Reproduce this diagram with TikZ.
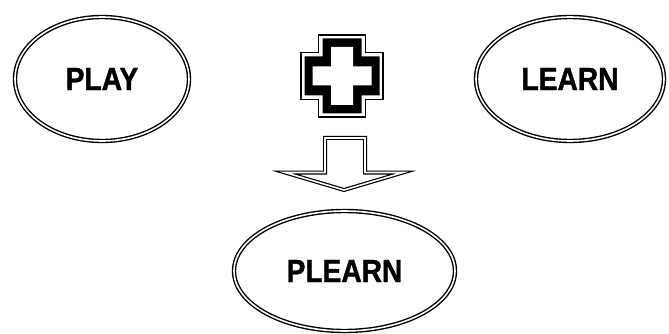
\documentclass[tikz,border=0pt]{standalone}
\usepackage{fontspec}
\newfontfamily\lblfont{Liberation Sans}[FakeStretch=0.88,FakeBold=1.2]
\usetikzlibrary{shapes.geometric}
\tikzset{
  oval/.style={ellipse,draw,double,line width=1.4pt,double distance=1.6pt,
    inner sep=0pt,font=\lblfont\bfseries\fontsize{32}{32}\selectfont},
  blockarrow/.style={draw,double,line width=1.2pt,double distance=1.6pt}
}
\begin{document}
\begin{tikzpicture}[x=1pt,y=-1pt,line join=miter]
  \useasboundingbox (0,0) rectangle (669,334);
  % the three ovals
  \node[oval,minimum width=174pt,minimum height=124pt] (play) at (102,79) {PLAY};
  \node[oval,minimum width=188pt,minimum height=124pt] (learn) at (570,79) {LEARN};
  \node[oval,minimum width=221pt,minimum height=120pt] (plearn) at (344.5,271) {PLEARN};
  % plus sign
  \coordinate (plus) at (342,76);
  \draw[shift={(plus)},line width=1.3pt]
    (-23.5,-41) -- (23.5,-41) -- (23.5,-23.5) -- (41,-23.5) -- (41,23.5) -- (23.5,23.5)
    -- (23.5,41) -- (-23.5,41) -- (-23.5,23.5) -- (-41,23.5) -- (-41,-23.5) -- (-23.5,-23.5) -- cycle;
  \fill[shift={(plus)}]
    (-19.5,-37.5) -- (19.5,-37.5) -- (19.5,-19.5) -- (37.5,-19.5) -- (37.5,19.5) -- (19.5,19.5)
    -- (19.5,37.5) -- (-19.5,37.5) -- (-19.5,19.5) -- (-37.5,19.5) -- (-37.5,-19.5) -- (-19.5,-19.5) -- cycle;
  \fill[shift={(plus)},white]
    (-11,-29) -- (11,-29) -- (11,-9.5) -- (29.5,-9.5) -- (29.5,9.5) -- (11,9.5)
    -- (11,29) -- (-11,29) -- (-11,9.5) -- (-29.5,9.5) -- (-29.5,-9.5) -- (-11,-9.5) -- cycle;
  % block arrow
  \draw[blockarrow] (325,138) -- (365,138) -- (365,172.5) -- (403,172.5) -- (344,190)
    -- (285,172.5) -- (325,172.5) -- cycle;
\end{tikzpicture}
\end{document}
